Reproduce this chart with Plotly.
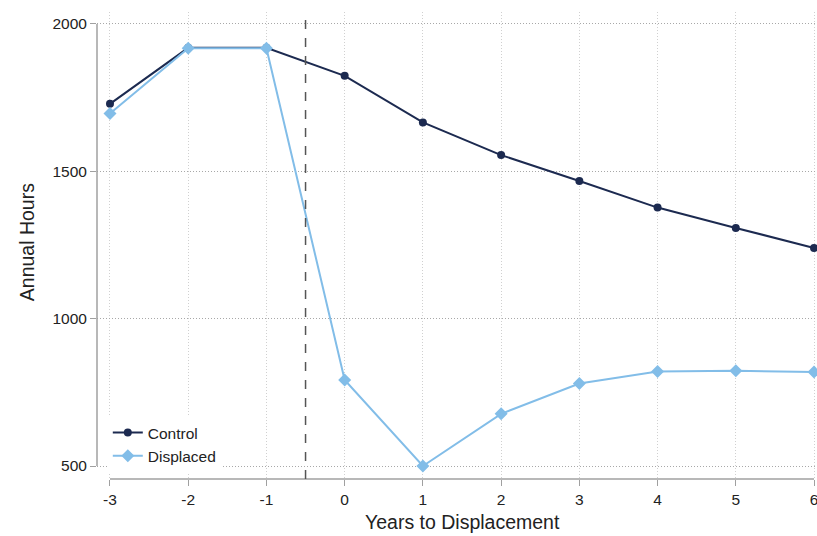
import plotly.graph_objects as go

years = [-3, -2, -1, 0, 1, 2, 3, 4, 5, 6]
control = [1729, 1919, 1919, 1824, 1666, 1555, 1467, 1377, 1308, 1240]
displaced = [1696, 1918, 1918, 792, 500, 677, 780, 821, 823, 819]
x_ticks = [-3, -2, -1, 0, 1, 2, 3, 4, 5, 6]
y_ticks = [500, 1000, 1500, 2000]
event_x = -0.5

navy = "#1c2a50"
light = "#82bde8"

fig = go.Figure()
fig.add_trace(go.Scatter(x=years, y=control, name="Control", mode="lines+markers",
                         line=dict(color=navy, width=2),
                         marker=dict(symbol="circle", size=8, color=navy)))
fig.add_trace(go.Scatter(x=years, y=displaced, name="Displaced", mode="lines+markers",
                         line=dict(color=light, width=2),
                         marker=dict(symbol="diamond", size=10, color=light)))

axis_col = "#a0a0a0"
fig.add_shape(type="line", xref="paper", yref="y", x0=0, x1=0, y0=min(y_ticks), y1=max(y_ticks),
              line=dict(color=axis_col, width=1.5))
fig.add_shape(type="line", xref="x", yref="paper", x0=min(x_ticks), x1=max(x_ticks), y0=0, y1=0,
              line=dict(color=axis_col, width=1.5))
fig.add_shape(type="line", xref="x", yref="paper", x0=event_x, x1=event_x, y0=0, y1=1,
              line=dict(color="#555555", width=1.5, dash="dash"))

fig.add_annotation(text="Years to Displacement", xref="paper", yref="paper", x=0.508, y=-0.093,
                   xanchor="center", yanchor="middle", showarrow=False, font=dict(size=19.5))
fig.add_annotation(text="Annual Hours", xref="paper", yref="paper", x=-0.098, y=0.508,
                   xanchor="center", yanchor="middle", textangle=-90, showarrow=False,
                   font=dict(size=19.5))

fig.update_layout(
    width=817, height=536,
    margin=dict(l=97, r=0, t=12, b=57),
    plot_bgcolor="white", paper_bgcolor="white",
    font=dict(family="Liberation Sans, Arial, sans-serif", color="#222222", size=15.5),
    showlegend=True,
    legend=dict(x=0.015, y=0.013, xanchor="left", yanchor="bottom",
                bgcolor="white", font=dict(size=15.5), itemwidth=30,
                tracegroupgap=0),
)
fig.update_xaxes(range=[-3.166, 6.038], tickvals=x_ticks, ticktext=[str(v) for v in x_ticks],
                 showgrid=True, gridcolor="#d0d0d0", griddash="1px,2px", gridwidth=1,
                 zeroline=False, showline=False, ticks="outside", ticklen=6, tickcolor=axis_col,
                 tickfont=dict(size=15.5), automargin=False, ticklabeloverflow="allow")
fig.update_yaxes(range=[455.9, 2040.7], tickvals=y_ticks, ticktext=[str(v) for v in y_ticks],
                 showgrid=True, gridcolor="#a8a8a8", griddash="1px,2px", gridwidth=1,
                 zeroline=False, showline=False, ticks="outside", ticklen=6, tickcolor=axis_col,
                 tickfont=dict(size=15.5), automargin=False)

fig.write_html("out.html", config={"displayModeBar": False},
               post_script="document.body.style.margin='0';document.body.style.overflow='hidden';")
